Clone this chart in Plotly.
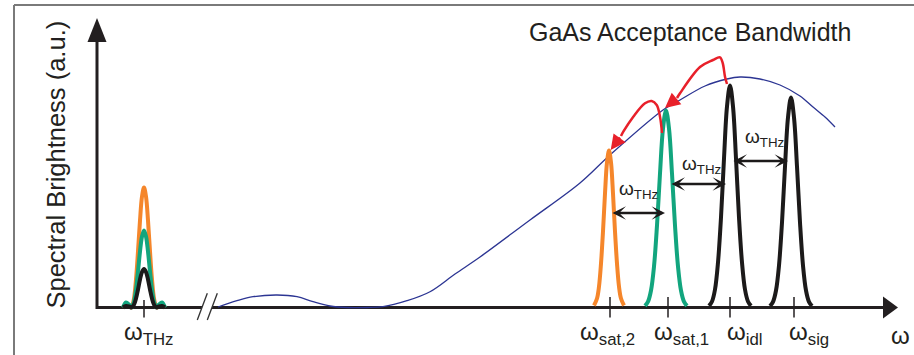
import plotly.graph_objects as go

# ---------------------------------------------------------------
# Schematic of cascaded difference-frequency generation inside the
# GaAs acceptance bandwidth.  Frequency and brightness are in
# arbitrary units (1 unit = 1 screen pixel of the drawing).
# ---------------------------------------------------------------

# Tick positions along the frequency axis and their labels
TICK_POS = [47, 513, 571, 633, 697]
TICK_TEXT = ["ω<sub>THz</sub>", "ω<sub>sat,2</sub>", "ω<sub>sat,1</sub>",
             "ω<sub>idl</sub>", "ω<sub>sig</sub>"]
TICK_LABEL_LEFT = [25, 481, 555, 628, 690]

# GaAs acceptance bandwidth curve
ACC_X = [121, 140, 156, 180, 200, 216, 233, 250, 270, 286, 310, 333, 358,
         383, 433, 483, 513, 566, 583, 608, 630, 643, 663, 683, 703, 716,
         728, 738]
ACC_Y = [0.5, 6.8, 10.8, 12.5, 10.8, 5.8, 1.5, 0, 0, 0.8, 6.8, 15.8, 33.5,
         50.5, 87.5, 124.5, 152.5, 197.5, 207.5, 221.5, 228.5, 230.5, 228.5,
         222.5, 211.5, 200.5, 190.5, 180.5]

# Near-infrared pulses (signal, idler and the two cascaded satellites)
SAT2_X = [497, 500, 502, 504, 506, 508, 510, 512, 514, 516, 518, 520, 522, 524, 527]
SAT2_Y = [2, 9, 21, 44, 76, 114, 145, 157, 145, 114, 76, 44, 21, 9, 2]

SAT1_X = [548, 551, 554, 557, 560, 563, 566, 569, 572, 575, 578, 581, 584, 587, 590]
SAT1_Y = [1.7, 5.9, 17, 41, 82, 134, 179, 197, 179, 134, 82, 41, 17, 5.9, 1.7]

IDL_X = [612, 615, 618, 621, 624, 627, 630, 633, 636, 639, 642, 645, 648, 651, 654]
IDL_Y = [1.6, 6, 18, 45, 90, 149, 201, 222, 201, 149, 90, 45, 18, 6, 1.6]

SIG_X = [673, 676, 679, 682, 685, 688, 691, 694, 697, 700, 703, 706, 709, 712, 715]
SIG_Y = [1.5, 5.7, 17, 42, 85, 141, 190, 210, 190, 141, 85, 42, 17, 5.7, 1.5]

# THz spectra generated by each stage
THZ_X = [26, 29, 32, 34, 35, 37, 39, 41, 43, 45, 47, 49, 51, 53, 55, 57, 59,
         60, 62, 65, 68]
THZ_ORANGE_Y = [0, 3, 2, 0, 0.8, 9, 28, 56, 87, 111, 120, 111, 87, 56, 28,
                9, 0.8, 0, 2, 3, 0]
THZ_GREEN_Y = [0, 5, 3, 0.5, 0.5, 5.8, 18, 36, 56, 71, 77, 71, 56, 36, 18,
               5.8, 0.5, 0.5, 3, 5, 0]
THZ_BLACK_Y = [0, 1.5, 1, 0, 0.3, 2.9, 9, 18, 28, 35.5, 38.5, 35.5, 28, 18,
               9, 2.9, 0.3, 0, 1, 1.5, 0]

# Red cascade arrows (idler -> sat,1 and sat,1 -> sat,2)
CASCADE1_X = [630, 628, 625.7, 623, 616, 603, 583, 580]
CASCADE1_Y = [223.5, 230.8, 244.5, 250.2, 247.5, 240.5, 214.2, 209.5]
CASCADE1_TIP = (568, 199.5)
CASCADE2_X = [565, 563, 559.7, 554.7, 548, 536.3, 526.3, 524]
CASCADE2_Y = [174.5, 190.8, 202.5, 206.5, 204.2, 190.8, 175.8, 171.5]
CASCADE2_TIP = (513.7, 157.5)

# Spacing arrows: (left end, right end, height, label left edge, label height)
SPACING_LEFT = [514, 573, 635]
SPACING_RIGHT = [568, 629, 691]
SPACING_Y = [94.5, 123.5, 146.5]
SPACING_LABEL_X = [519.7, 583, 646]
SPACING_LABEL_Y = [118, 143, 169.5]

ORANGE = "#f5862b"
GREEN = "#12a57e"
BLACK = "#1c1a1a"
BLUE = "#2c3593"
RED = "#e8202a"
FONT = "Liberation Sans"

fig = go.Figure()

# acceptance bandwidth
fig.add_trace(go.Scatter(x=ACC_X, y=ACC_Y, mode="lines", line_shape="spline",
                         line=dict(color=BLUE, width=1.3), hoverinfo="skip"))

# THz spectra
for ys, col in [(THZ_ORANGE_Y, ORANGE), (THZ_GREEN_Y, GREEN), (THZ_BLACK_Y, BLACK)]:
    fig.add_trace(go.Scatter(x=THZ_X, y=ys, mode="lines", line_shape="spline",
                             line=dict(color=col, width=4), hoverinfo="skip"))

# optical pulses
for xs, ys, col in [(SAT2_X, SAT2_Y, ORANGE), (SAT1_X, SAT1_Y, GREEN),
                    (IDL_X, IDL_Y, BLACK), (SIG_X, SIG_Y, BLACK)]:
    fig.add_trace(go.Scatter(x=xs, y=ys, mode="lines", line_shape="spline",
                             line=dict(color=col, width=4), hoverinfo="skip"))

# cascade arrows (curved bodies)
for xs, ys in [(CASCADE1_X, CASCADE1_Y), (CASCADE2_X, CASCADE2_Y)]:
    fig.add_trace(go.Scatter(x=xs, y=ys, mode="lines", line_shape="spline",
                             line=dict(color=RED, width=2.5), hoverinfo="skip"))

shapes = []
AX_COL = "#231f20"
X_END, Y_END = 801, 289.5
X_HEAD, Y_HEAD = 15, 24

# axes
shapes.append(dict(type="line", x0=0, y0=0, x1=X_END - X_HEAD + 2, y1=0,
                   line=dict(color=AX_COL, width=3), layer="below"))
shapes.append(dict(type="line", x0=0, y0=-1.5, x1=0, y1=Y_END - Y_HEAD + 2,
                   line=dict(color=AX_COL, width=3), layer="below"))
shapes.append(dict(type="path",
                   path=f"M{X_END},0 L{X_END - X_HEAD},11 L{X_END - X_HEAD},-11 Z",
                   fillcolor=AX_COL, line=dict(width=0), layer="below"))
shapes.append(dict(type="path",
                   path=f"M0,{Y_END} L-9.5,{Y_END - Y_HEAD} L9.5,{Y_END - Y_HEAD} Z",
                   fillcolor=AX_COL, line=dict(width=0), layer="below"))

# axis break
shapes.append(dict(type="path", path="M100.3,-12.5 L110.3,14.2 L120.3,14.2 L110.3,-12.5 Z",
                   fillcolor="white", line=dict(width=0), layer="below"))
for x0 in (100.3, 110.3):
    shapes.append(dict(type="line", x0=x0, y0=-12.5, x1=x0 + 10, y1=14.2,
                       line=dict(color="#333333", width=1.3), layer="below"))

# ticks
for i, xt in enumerate(TICK_POS):
    top = 7.5 if i == 0 else 10.5
    shapes.append(dict(type="line", x0=xt, y0=-10, x1=xt, y1=top,
                       line=dict(color=AX_COL, width=1.5)))

# outer frame
shapes.append(dict(type="line", xref="paper", yref="paper", x0=14 / 914, x1=14 / 914,
                   y0=0, y1=1 - 5 / 355, line=dict(color="#7a7a7a", width=2)))
shapes.append(dict(type="line", xref="paper", yref="paper", x0=14 / 914, x1=1,
                   y0=1 - 5 / 355, y1=1 - 5 / 355, line=dict(color="#7a7a7a", width=2)))

annotations = []

# tick labels
for xl, txt in zip(TICK_LABEL_LEFT, TICK_TEXT):
    annotations.append(dict(x=xl, y=-26, text=txt, showarrow=False, xanchor="left",
                            yanchor="middle", font=dict(family=FONT, size=24, color=AX_COL)))
annotations.append(dict(x=803, y=-27.5, text="ω", showarrow=False, xanchor="center",
                        yanchor="middle", font=dict(family=FONT, size=24, color=AX_COL)))

# axis title and chart title
annotations.append(dict(x=-42, y=143, text="Spectral Brightness (a.u.)", textangle=-90,
                        showarrow=False, xanchor="center", yanchor="middle",
                        font=dict(family=FONT, size=25.5, color=AX_COL)))
annotations.append(dict(x=593, y=275.5, text="GaAs Acceptance Bandwidth", showarrow=False,
                        xanchor="center", yanchor="middle",
                        font=dict(family=FONT, size=25, color=AX_COL)))

# spacing arrows and labels
for xl, xr, ys, lx, ly in zip(SPACING_LEFT, SPACING_RIGHT, SPACING_Y,
                              SPACING_LABEL_X, SPACING_LABEL_Y):
    annotations.append(dict(x=xr, y=ys, ax=xl, ay=ys, xref="x", yref="y",
                            axref="x", ayref="y", text="", showarrow=True,
                            arrowhead=3, startarrowhead=3, arrowside="end+start",
                            arrowwidth=2.5, arrowsize=0.9, startarrowsize=0.9,
                            arrowcolor=BLACK))
    annotations.append(dict(x=lx, y=ly, text="ω<sub>THz</sub>", showarrow=False,
                            xanchor="left", yanchor="middle",
                            font=dict(family=FONT, size=19, color=AX_COL)))

# cascade arrow heads
for xs, ys, tip in [(CASCADE1_X, CASCADE1_Y, CASCADE1_TIP),
                    (CASCADE2_X, CASCADE2_Y, CASCADE2_TIP)]:
    annotations.append(dict(x=tip[0], y=tip[1], ax=xs[-1], ay=ys[-1], xref="x", yref="y",
                            axref="x", ayref="y", text="", showarrow=True,
                            arrowhead=2, arrowwidth=2.5, arrowsize=1.2, arrowcolor=RED))

fig.update_layout(
    width=914, height=355,
    margin=dict(l=0, r=0, t=0, b=0),
    paper_bgcolor="white", plot_bgcolor="white",
    showlegend=False,
    xaxis=dict(range=[-97, 817], visible=False, fixedrange=True),
    yaxis=dict(range=[-47.5, 307.5], visible=False, fixedrange=True),
    shapes=shapes, annotations=annotations,
)

fig.write_html("out.html")
